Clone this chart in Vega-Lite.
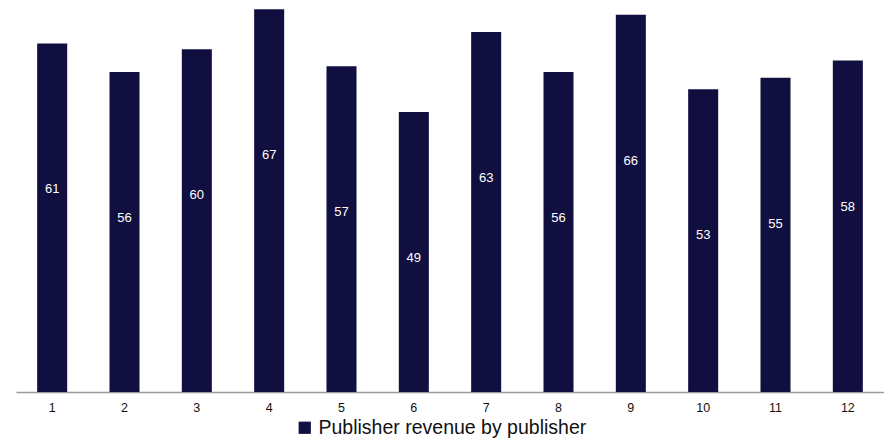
{
  "$schema": "https://vega.github.io/schema/vega-lite/v6.json",
  "autosize": "none",
  "width": 868,
  "height": 392,
  "padding": {"left": 16, "top": 0, "right": 0, "bottom": 47},
  "background": "white",
  "title": {
    "text": "Monthly revenue by publisher",
    "anchor": "start",
    "font": "Liberation Sans",
    "fontSize": 16,
    "fontWeight": "bold",
    "color": "#1c2a5e",
    "baseline": "alphabetic",
    "offset": -1,
    "dx": 22
  },
  "config": {"view": {"stroke": null}},
  "data": {
    "values": [
      {"month": "1", "revenue": 61, "series": "Publisher revenue by publisher"},
      {"month": "2", "revenue": 56, "series": "Publisher revenue by publisher"},
      {"month": "3", "revenue": 60, "series": "Publisher revenue by publisher"},
      {"month": "4", "revenue": 67, "series": "Publisher revenue by publisher"},
      {"month": "5", "revenue": 57, "series": "Publisher revenue by publisher"},
      {"month": "6", "revenue": 49, "series": "Publisher revenue by publisher"},
      {"month": "7", "revenue": 63, "series": "Publisher revenue by publisher"},
      {"month": "8", "revenue": 56, "series": "Publisher revenue by publisher"},
      {"month": "9", "revenue": 66, "series": "Publisher revenue by publisher"},
      {"month": "10", "revenue": 53, "series": "Publisher revenue by publisher"},
      {"month": "11", "revenue": 55, "series": "Publisher revenue by publisher"},
      {"month": "12", "revenue": 58, "series": "Publisher revenue by publisher"}
    ]
  },
  "encoding": {
    "x": {
      "field": "month",
      "type": "ordinal",
      "sort": null,
      "scale": {"paddingInner": 0.585, "paddingOuter": 0.2925},
      "axis": {
        "title": null,
        "labelAngle": 0,
        "ticks": false,
        "grid": false,
        "domainColor": "#9a9a9a",
        "domainWidth": 1.5,
        "labelFont": "Liberation Sans",
        "labelFontSize": 12.5,
        "labelColor": "#111111",
        "labelPadding": 9
      }
    },
    "y": {
      "field": "revenue",
      "type": "quantitative",
      "scale": {"domain": [0, 68.6], "nice": false, "zero": true},
      "axis": null
    }
  },
  "layer": [
    {
      "mark": {"type": "bar", "color": "#110f40"},
      "encoding": {
        "color": {
          "field": "series",
          "type": "nominal",
          "scale": {"range": ["#110f40"]},
          "legend": {
            "title": null,
            "orient": "none",
            "legendX": 279,
            "legendY": 418,
            "padding": 0,
            "symbolType": "square",
            "symbolSize": 150,
            "symbolStrokeWidth": 0,
            "labelFont": "Liberation Sans",
            "labelFontSize": 19.5,
            "labelColor": "#111111",
            "labelOffset": 4,
            "labelLimit": 400
          }
        }
      }
    },
    {
      "mark": {
        "type": "text",
        "color": "white",
        "font": "Liberation Sans",
        "fontSize": 13,
        "baseline": "middle",
        "dy": 146
      },
      "encoding": {
        "text": {"field": "revenue", "type": "quantitative"}
      }
    }
  ]
}
